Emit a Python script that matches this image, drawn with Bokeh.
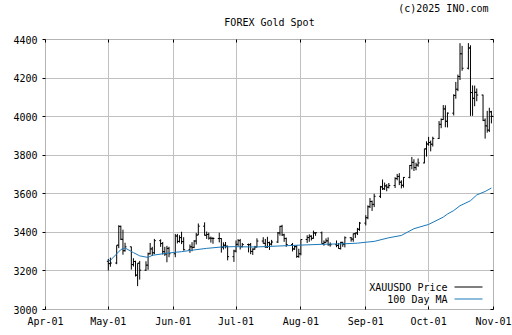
import pandas as pd
from bokeh.plotting import figure
from bokeh.models import (ColumnDataSource, FixedTicker, LinearAxis, Range1d, Label,
                          Arrow, Title, DatetimeTickFormatter)
from bokeh.embed import file_html
from bokeh.resources import INLINE

FONT = "DejaVu Sans Mono"

title_text = "FOREX Gold Spot"
copyright_text = "(c)2025 INO.com"
price_name = "XAUUSDO Price"
ma_name = "100 Day MA"

tick_dates = ["2025-04-01", "2025-05-01", "2025-06-01", "2025-07-01",
              "2025-08-01", "2025-09-01", "2025-10-01", "2025-11-01"]
tick_labels = ["Apr-01", "May-01", "Jun-01", "Jul-01", "Aug-01", "Sep-01", "Oct-01", "Nov-01"]
y_ticks = [3000, 3200, 3400, 3600, 3800, 4000, 4200, 4400]

first_day = "2025-05-01"
last_day = "2025-10-31"

opens = [
    # May
    3250, 3238, 3241, 3334, 3431, 3364, 3305, 3325, 3233, 3249, 3178, 3240, 3204, 3230, 3289, 3314, 3294, 3357, 3342, 3300, 3288, 3317,
    # Jun
    3289, 3381, 3353, 3373, 3352, 3310, 3325, 3322, 3355, 3386, 3432, 3385, 3389, 3370, 3369, 3368, 3368, 3323, 3333, 3328, 3274,
    # Jul
    3303, 3338, 3357, 3326, 3337, 3336, 3301, 3313, 3324, 3355, 3343, 3324, 3347, 3339, 3350, 3397, 3431, 3387, 3368, 3337, 3314, 3326, 3275,
    # Aug
    3289, 3363, 3373, 3380, 3369, 3397, 3398, 3342, 3348, 3356, 3336, 3336, 3332, 3316, 3348, 3339, 3372, 3365, 3393, 3397, 3416,
    # Sep
    3448, 3476, 3533, 3560, 3545, 3587, 3636, 3626, 3641, 3634, 3643, 3679, 3690, 3660, 3644, 3685, 3747, 3763, 3736, 3749, 3760, 3833,
    # Oct
    3858, 3866, 3857, 3887, 3960, 3985, 4040, 3976, 4018, 4110, 4142, 4208, 4326, 4251, 4356, 4125, 4095, 4126, 4112, 3981, 3952, 3930, 4025,
]
highs = [
    3262, 3269, 3333, 3437, 3435, 3414, 3346, 3326, 3266, 3253, 3240, 3252, 3250, 3295, 3345, 3325, 3366, 3364, 3350, 3325, 3330, 3325,
    3392, 3392, 3385, 3403, 3375, 3337, 3349, 3360, 3397, 3446, 3452, 3404, 3399, 3378, 3375, 3398, 3370, 3348, 3350, 3331, 3310,
    3358, 3365, 3366, 3345, 3342, 3345, 3317, 3330, 3369, 3375, 3366, 3377, 3352, 3361, 3402, 3434, 3439, 3393, 3373, 3345, 3334, 3334, 3315,
    3363, 3385, 3390, 3385, 3409, 3400, 3404, 3358, 3369, 3374, 3348, 3358, 3345, 3351, 3351, 3379, 3376, 3394, 3398, 3423, 3454,
    3489, 3540, 3578, 3565, 3600, 3641, 3674, 3658, 3650, 3656, 3686, 3703, 3707, 3670, 3687, 3749, 3791, 3779, 3761, 3783, 3834, 3872,
    3895, 3876, 3896, 3977, 3991, 4060, 4059, 4022, 4116, 4180, 4218, 4381, 4367, 4381, 4370, 4162, 4161, 4146, 4114, 3991, 4030, 4046, 4030,
]
lows = [
    3202, 3222, 3235, 3318, 3360, 3284, 3300, 3207, 3223, 3171, 3121, 3155, 3200, 3206, 3285, 3278, 3287, 3325, 3285, 3278, 3245, 3271,
    3271, 3343, 3347, 3339, 3306, 3294, 3302, 3318, 3337, 3386, 3383, 3366, 3362, 3347, 3341, 3348, 3295, 3311, 3317, 3255, 3247,
    3296, 3328, 3311, 3322, 3296, 3287, 3283, 3310, 3322, 3342, 3320, 3319, 3309, 3332, 3345, 3383, 3381, 3351, 3325, 3301, 3309, 3268, 3268,
    3281, 3345, 3351, 3358, 3367, 3382, 3341, 3331, 3347, 3331, 3326, 3323, 3315, 3311, 3325, 3322, 3352, 3351, 3371, 3386, 3408,
    3436, 3468, 3526, 3511, 3531, 3578, 3620, 3620, 3613, 3628, 3630, 3670, 3645, 3628, 3632, 3680, 3727, 3718, 3722, 3740, 3758, 3793,
    3849, 3820, 3845, 3884, 3940, 3983, 3945, 3944, 4006, 4093, 4132, 4190, 4238, 4245, 4004, 4004, 4054, 4080, 3977, 3886, 3917, 3920, 3965,
]
closes = [
    3238, 3241, 3333, 3431, 3364, 3305, 3325, 3233, 3249, 3178, 3240, 3204, 3230, 3289, 3314, 3294, 3357, 3342, 3300, 3288, 3317, 3289,
    3381, 3353, 3373, 3352, 3310, 3325, 3322, 3355, 3386, 3432, 3385, 3389, 3370, 3369, 3368, 3368, 3323, 3333, 3328, 3274, 3303,
    3338, 3357, 3326, 3337, 3336, 3301, 3313, 3324, 3355, 3343, 3324, 3347, 3339, 3350, 3397, 3431, 3387, 3368, 3337, 3314, 3326, 3275, 3289,
    3363, 3373, 3380, 3369, 3397, 3398, 3342, 3348, 3356, 3336, 3336, 3332, 3316, 3348, 3339, 3372, 3365, 3393, 3397, 3416, 3448,
    3476, 3533, 3560, 3545, 3587, 3636, 3626, 3641, 3634, 3643, 3679, 3690, 3660, 3644, 3685, 3747, 3763, 3736, 3749, 3760, 3833, 3858,
    3866, 3857, 3887, 3960, 3985, 4040, 3976, 4018, 4110, 4142, 4208, 4326, 4251, 4356, 4125, 4095, 4126, 4112, 3981, 3952, 3930, 4025, 4002,
]

ma_dates = ["2025-05-01", "2025-05-02", "2025-05-07", "2025-05-09", "2025-05-13", "2025-05-16",
            "2025-05-20", "2025-05-22", "2025-05-29", "2025-06-05", "2025-06-11", "2025-06-17",
            "2025-06-24", "2025-06-30", "2025-07-10", "2025-07-21", "2025-08-01", "2025-08-11",
            "2025-08-22", "2025-08-28", "2025-09-02", "2025-09-05", "2025-09-12", "2025-09-18",
            "2025-09-24", "2025-10-01", "2025-10-08", "2025-10-10", "2025-10-13", "2025-10-16",
            "2025-10-21", "2025-10-24", "2025-10-28", "2025-10-31"]
ma_values = [3252, 3255, 3311, 3319, 3295, 3278, 3270, 3281, 3292, 3300, 3309, 3317,
             3324, 3326, 3324, 3329, 3334, 3338, 3341, 3344, 3350, 3353, 3372, 3384,
             3419, 3441, 3479, 3495, 3513, 3538, 3564, 3594, 3612, 3630]


def to_ms(d):
    return pd.Timestamp(d).value // 10**6


dates = pd.bdate_range(first_day, last_day)
assert len(dates) == len(opens) == len(highs) == len(lows) == len(closes)
x = [to_ms(d) for d in dates]
tick_ms = [to_ms(d) for d in tick_dates]
DAY = 86400000
tick_len = 0.7 * DAY

src = ColumnDataSource(dict(
    x=x, x_left=[v - tick_len for v in x], x_right=[v + tick_len for v in x],
    o=opens, h=highs, l=lows, c=closes))
ma_src = ColumnDataSource(dict(x=[to_ms(d) for d in ma_dates], y=ma_values))

p = figure(width=512, height=335, output_backend="svg", toolbar_location=None,
           x_range=Range1d(tick_ms[0], tick_ms[-1]), y_range=Range1d(y_ticks[0], y_ticks[-1]),
           min_border_left=45, min_border_right=19, min_border_top=39, min_border_bottom=26,
           x_axis_type="datetime")
p.background_fill_color = "white"
p.border_fill_color = "white"
p.outline_line_color = "#b4b4b4"
p.outline_line_width = 1

grid_color = "#c0c0c0"
p.xgrid.ticker = FixedTicker(ticks=tick_ms)
p.ygrid.ticker = FixedTicker(ticks=y_ticks)
p.grid.grid_line_color = grid_color
p.grid.grid_line_width = 1

fmt = DatetimeTickFormatter(days="%b-%d", months="%b-%d", years="%b-%d", hours="%b-%d")


def style_axis(ax, tin, tout, labels=True):
    ax.axis_line_color = None
    ax.major_tick_in = tin
    ax.major_tick_out = tout
    ax.major_tick_line_color = "black"
    ax.major_tick_line_width = 1
    ax.minor_tick_line_color = None
    ax.major_label_text_font = FONT
    ax.major_label_text_font_size = "10px" if labels else "1px"
    ax.major_label_text_color = "black"
    if not labels:
        ax.major_label_standoff = 0


xa = p.xaxis[0]
xa.ticker = FixedTicker(ticks=tick_ms)
xa.formatter = fmt
xa.major_label_overrides = {t: s for t, s in zip(tick_ms, tick_labels)}
style_axis(xa, 3, 0)
xa.major_label_standoff = 6

ya = p.yaxis[0]
ya.ticker = FixedTicker(ticks=y_ticks)
style_axis(ya, 0, 3)
ya.major_label_standoff = 5

# tick marks only on the top edge; the chart title is this axis' label
top_ax = LinearAxis(ticker=FixedTicker(ticks=tick_ms))
style_axis(top_ax, 3, 0, labels=False)
top_ax.major_label_overrides = {t: "" for t in tick_ms}
top_ax.axis_label = title_text
top_ax.axis_label_text_font = FONT
top_ax.axis_label_text_font_size = "10px"
top_ax.axis_label_text_font_style = "normal"
top_ax.axis_label_text_color = "black"
top_ax.axis_label_standoff = 12

right_ax = LinearAxis(ticker=FixedTicker(ticks=y_ticks))
style_axis(right_ax, 3, 0, labels=False)
right_ax.major_label_overrides = {t: "" for t in y_ticks}
p.add_layout(top_ax, "above")
p.add_layout(right_ax, "right")

# OHLC bars
p.segment(x0="x", y0="l", x1="x", y1="h", source=src, line_color="black", line_width=1)
p.segment(x0="x_left", y0="o", x1="x", y1="o", source=src, line_color="black", line_width=1)
p.segment(x0="x", y0="c", x1="x_right", y1="c", source=src, line_color="black", line_width=1)

# moving average
p.line(x="x", y="y", source=ma_src, line_color="#1b78b8", line_width=1)

# copyright line, top right
copy_title = Title(text=copyright_text, align="right", text_font=FONT, text_font_size="10px",
                   text_font_style="normal", text_color="black", standoff=0, offset=5)
p.add_layout(copy_title, "above")

# legend (text then line sample, as in reference)
for text, yy, col in [(price_name, 22, "black"), (ma_name, 10, "#1b78b8")]:
    p.add_layout(Label(x=402, y=yy, x_units="screen", y_units="screen", text=text,
                       text_align="right", text_baseline="middle", text_font=FONT,
                       text_font_size="10px", text_color="black",
                       background_fill_color="white"))
    p.add_layout(Arrow(end=None, x_start=409, y_start=yy + 0.5, x_end=437, y_end=yy + 0.5,
                       start_units="screen", end_units="screen", line_color=col, line_width=1))

open("out.html", "w").write(file_html(p, INLINE))
